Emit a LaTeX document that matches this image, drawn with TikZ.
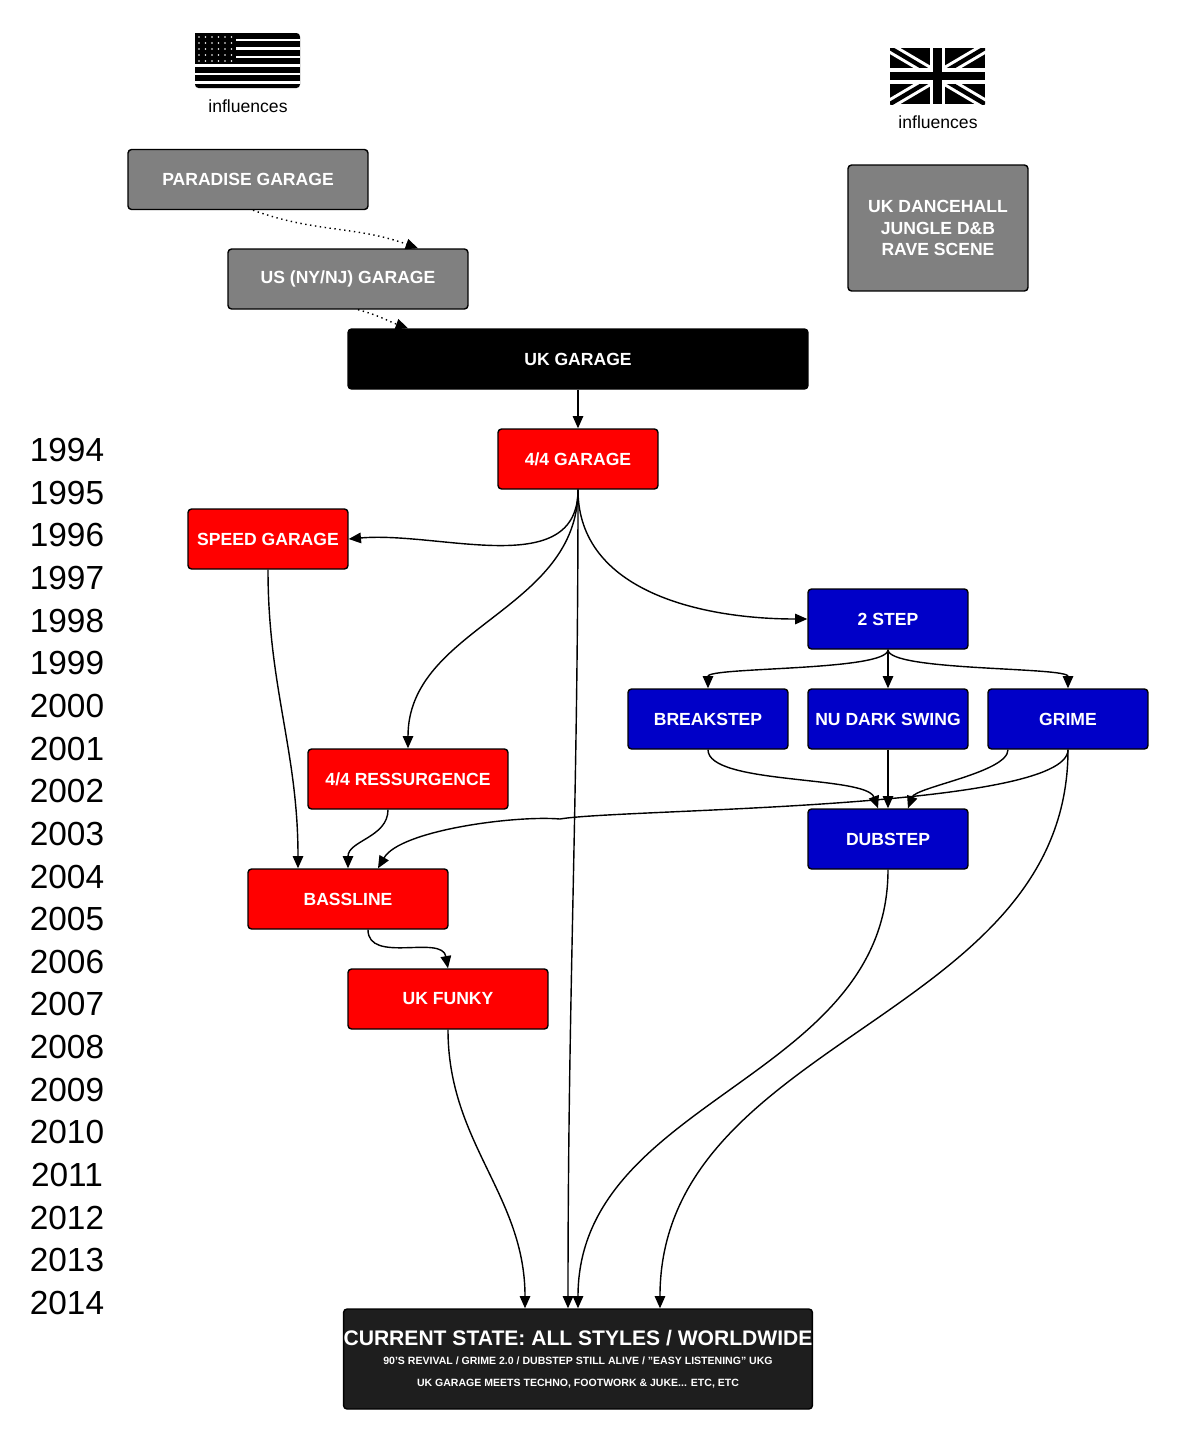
\documentclass[tikz,border=0pt]{standalone}
\usepackage{fontspec}
\setmainfont{Liberation Sans}
\usetikzlibrary{arrows.meta}
\tikzset{>={Triangle[length=7pt,width=6pt]}}
\definecolor{boxgrey}{RGB}{128,128,128}
\definecolor{boxred}{RGB}{255,0,0}
\definecolor{boxblue}{RGB}{0,0,200}
\definecolor{boxdark}{RGB}{30,30,30}
\tikzset{
  genre/.style={draw=black,thick,rounded corners=2pt,text=white,font=\bfseries\fontsize{10}{12}\selectfont,
    align=center,minimum height=1.2cm,minimum width=3.2cm,inner sep=0pt},
  flow/.style={->,thick},
  infl/.style={->,thick,dotted},
  year/.style={font=\fontsize{19}{20}\selectfont}
}
\begin{document}
\begin{tikzpicture}[x=0.02cm,y=-0.02cm]
    \useasboundingbox (0,0) rectangle (1179,1445);
    % flags
    \fill[black,rounded corners=2pt] (195,33) rectangle (300,88);
    \foreach \s in {0,...,5} \fill[white] (195,38.5+\s*8.5) rectangle (300,41+\s*8.5);
    \fill[black] (195,33) rectangle (236,62);
    \foreach \i in {0,...,5} \foreach \j in {0,...,4}
        \fill[white] (199+\i*6.5,37+\j*6) circle (0.8);
    \node (usinf) at (248,106) {\fontsize{10}{12}\selectfont influences};
    \begin{scope}
        \clip (890,48) rectangle (985,104);
        \fill[black] (890,48) rectangle (985,104);
        \draw[white,line width=6pt] (890,48) -- (985,104) (890,104) -- (985,48);
        \draw[black,line width=2.5pt] (890,48) -- (985,104) (890,104) -- (985,48);
        \draw[white,line width=9pt] (937.5,48) -- (937.5,104) (890,76) -- (985,76);
        \draw[black,line width=5pt] (937.5,48) -- (937.5,104) (890,76) -- (985,76);
    \end{scope}
    \node (ukinf) at (938,122) {\fontsize{10}{12}\selectfont influences};
    % years
    \foreach \y [count=\k from 0] in {1994,...,2014}
        \node[year] (y\y) at (67,450+\k*42.65) {\y};
    % boxes
    \node[genre,fill=boxgrey,minimum width=4.8cm] (paradise) at (248,179.5) {PARADISE GARAGE};
    \node[genre,fill=boxgrey,minimum width=4.8cm] (usgarage) at (348,279) {US (NY/NJ) GARAGE};
    \node[genre,fill=boxgrey,minimum width=3.6cm,minimum height=2.52cm] (dancehall) at (938,228) {UK DANCEHALL\\JUNGLE D\&B\\RAVE SCENE};
    \node[genre,fill=black,minimum width=9.2cm] (ukgarage) at (578,359) {UK GARAGE};
    \node[genre,fill=boxred] (fourfour) at (578,459) {4/4 GARAGE};
    \node[genre,fill=boxred] (speed) at (268,539) {SPEED GARAGE};
    \node[genre,fill=boxblue] (twostep) at (888,619) {2 STEP};
    \node[genre,fill=boxblue] (breakstep) at (708,719) {BREAKSTEP};
    \node[genre,fill=boxblue] (nudark) at (888,719) {NU DARK SWING};
    \node[genre,fill=boxblue] (grime) at (1068,719) {GRIME};
    \node[genre,fill=boxred,minimum width=4cm] (resurge) at (408,779) {4/4 RESSURGENCE};
    \node[genre,fill=boxblue] (dubstep) at (888,839) {DUBSTEP};
    \node[genre,fill=boxred,minimum width=4cm] (bassline) at (348,899) {BASSLINE};
    \node[genre,fill=boxred,minimum width=4cm] (funky) at (448,999) {UK FUNKY};
    \node[genre,fill=boxdark,minimum width=9.2cm,minimum height=2cm] (current) at (578,1359)
        {\fontsize{12}{14}\selectfont CURRENT STATE: ALL STYLES / WORLDWIDE\\[-1pt]
         \fontsize{6}{11}\selectfont 90'S REVIVAL / GRIME 2.0 / DUBSTEP STILL ALIVE / "EASY LISTENING" UKG\\
         \fontsize{6}{9}\selectfont UK GARAGE MEETS TECHNO, FOOTWORK \& JUKE... ETC, ETC};
    % influences
    \draw[infl] ([xshift=0.1cm]paradise.south) to[out=-20,in=160] ([xshift=1.4cm]usgarage.north);
    \draw[infl] ([xshift=0.2cm]usgarage.south) to[out=-15,in=160] ([xshift=-3.4cm]ukgarage.north);
    % lineage
    \draw[flow] (ukgarage) -- (fourfour);
    \draw[flow] (fourfour.south) to[out=-90,in=5] (speed.east);
    \draw[flow] (fourfour.south) to[out=-90,in=90] (resurge.north);
    \draw[flow] (fourfour.south) to[out=-90,in=90] ([xshift=-0.2cm]current.north);
    \draw[flow] (fourfour.south) to[out=-90,in=180] (twostep.west);
    \draw[flow] (twostep.south) to[out=-90,in=90,looseness=0.3] (breakstep.north);
    \draw[flow] (twostep) -- (nudark);
    \draw[flow] (twostep.south) to[out=-90,in=90,looseness=0.3] (grime.north);
    \draw[flow] (breakstep.south) to[out=-90,in=110,looseness=0.5] ([xshift=-0.2cm]dubstep.north);
    \draw[flow] (nudark) -- (dubstep);
    \draw[flow] ([xshift=-1.2cm]grime.south) to[out=-90,in=70,looseness=0.5] ([xshift=0.4cm]dubstep.north);
    \draw[flow] (grime.south) to[out=-90,in=10,looseness=0.3] (560,819) to[out=175,in=60,looseness=0.6] ([xshift=0.6cm]bassline.north);
    \draw[flow] (grime.south) to[out=-90,in=90] ([xshift=1.64cm]current.north);
    \draw[flow] (speed.south) to[out=-90,in=90] ([xshift=-1cm]bassline.north);
    \draw[flow] ([xshift=-0.4cm]resurge.south) to[out=-90,in=90] (bassline.north);
    \draw[flow] ([xshift=0.4cm]bassline.south) to[out=-90,in=100] (funky.north);
    \draw[flow] (funky.south) to[out=-90,in=90] ([xshift=-1.06cm]current.north);
    \draw[flow] (dubstep.south) to[out=-90,in=90] (current.north);
\end{tikzpicture}
\end{document}
